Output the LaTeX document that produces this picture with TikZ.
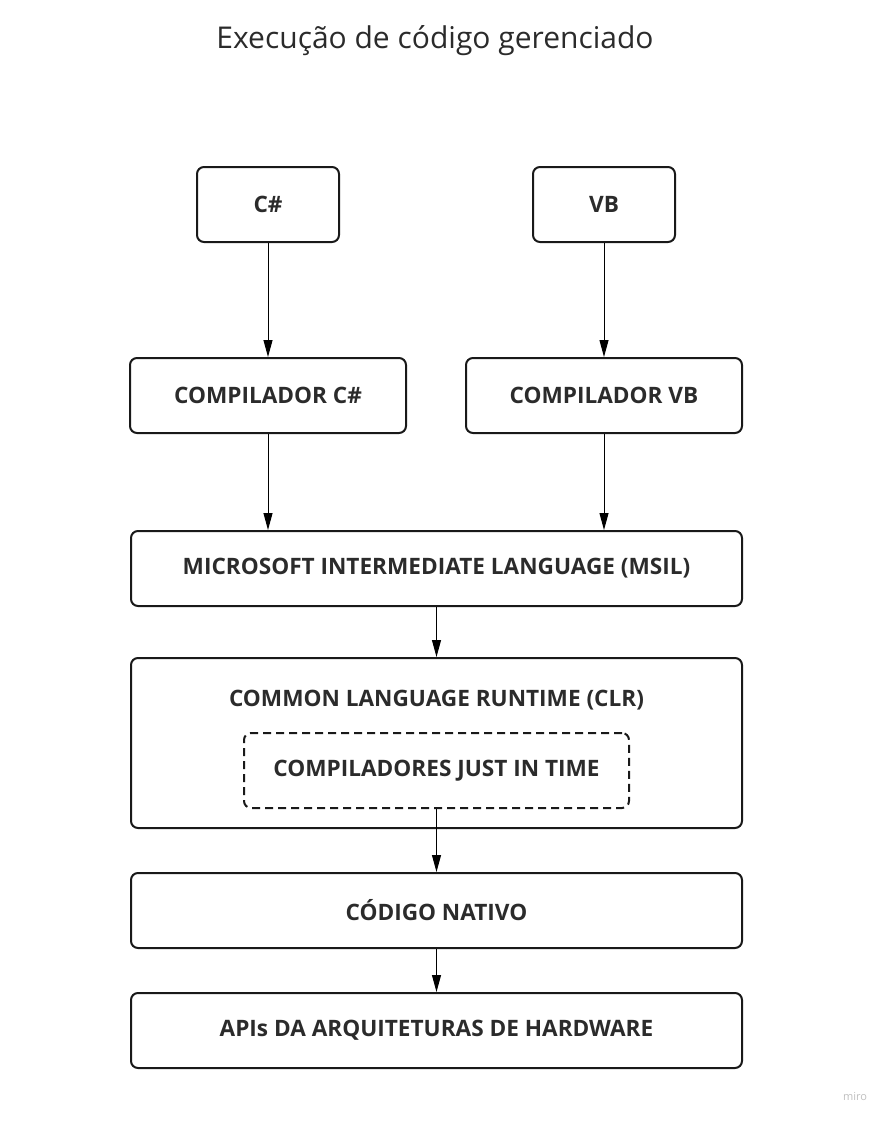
\documentclass[tikz,border=0pt]{standalone}
\usepackage{fontspec}
\setmainfont{Open Sans}
\usetikzlibrary{arrows.meta}
\definecolor{txt}{HTML}{2B2B2B}
\tikzset{
  box/.style={draw=black!90, line width=2pt, rounded corners=7pt, inner sep=0pt,
    font=\fontsize{22.6}{26}\selectfont\bfseries, text=txt},
  dbox/.style={box, dashed, dash pattern=on 8pt off 5pt},
  conn/.style={-{Triangle[length=17pt,width=9pt]}, line width=1pt, black},
}
\begin{document}
\begin{tikzpicture}[x=1pt,y=-1pt]
\useasboundingbox (0,0) rectangle (890,1122);
\node[font=\fontsize{30}{34}\selectfont, text=txt] (title) at (435,41) {Execução de código gerenciado};

\node[box, minimum width=142pt, minimum height=75pt] (cs) at (268,204.5) {C\#};
\node[box, minimum width=142pt, minimum height=75pt] (vb) at (604,204.5) {VB};
\node[box, minimum width=276pt, minimum height=75pt] (ccs) at (268,395.5) {COMPILADOR C\#};
\node[box, minimum width=276pt, minimum height=75pt] (cvb) at (604,395.5) {COMPILADOR VB};
\node[box, minimum width=611pt, minimum height=75pt] (msil) at (436.5,568.5) {MICROSOFT INTERMEDIATE LANGUAGE (MSIL)};
\node[box, minimum width=611pt, minimum height=170pt] (clr) at (436.5,743) {};
\node[font=\fontsize{22.6}{26}\selectfont\bfseries, text=txt] (clrt) at (436.5,700) {COMMON LANGUAGE RUNTIME (CLR)};
\node[dbox, minimum width=385pt, minimum height=75pt] (jit) at (436.5,770.5) {\raisebox{1pt}{COMPILADORES JUST IN TIME}};
\node[box, minimum width=611pt, minimum height=75pt] (nat) at (436.5,910.5) {\raisebox{2pt}{CÓDIGO NATIVO}};
\node[box, minimum width=611pt, minimum height=75pt] (api) at (436.5,1030.5) {\raisebox{1pt}{APIs DA ARQUITETURAS DE HARDWARE}};

\node[font=\fontsize{11}{13}\selectfont, text=black!25] (miro) at (855,1097) {miro};

\draw[conn] (cs.south) -- (ccs.north);
\draw[conn] (vb.south) -- (cvb.north);
\draw[conn] (ccs.south) -- (ccs.south |- msil.north);
\draw[conn] (cvb.south) -- (cvb.south |- msil.north);
\draw[conn] (msil.south) -- (clr.north);
\draw[conn] (jit.south) -- (nat.north);
\draw[conn] (nat.south) -- (api.north);
\end{tikzpicture}
\end{document}
